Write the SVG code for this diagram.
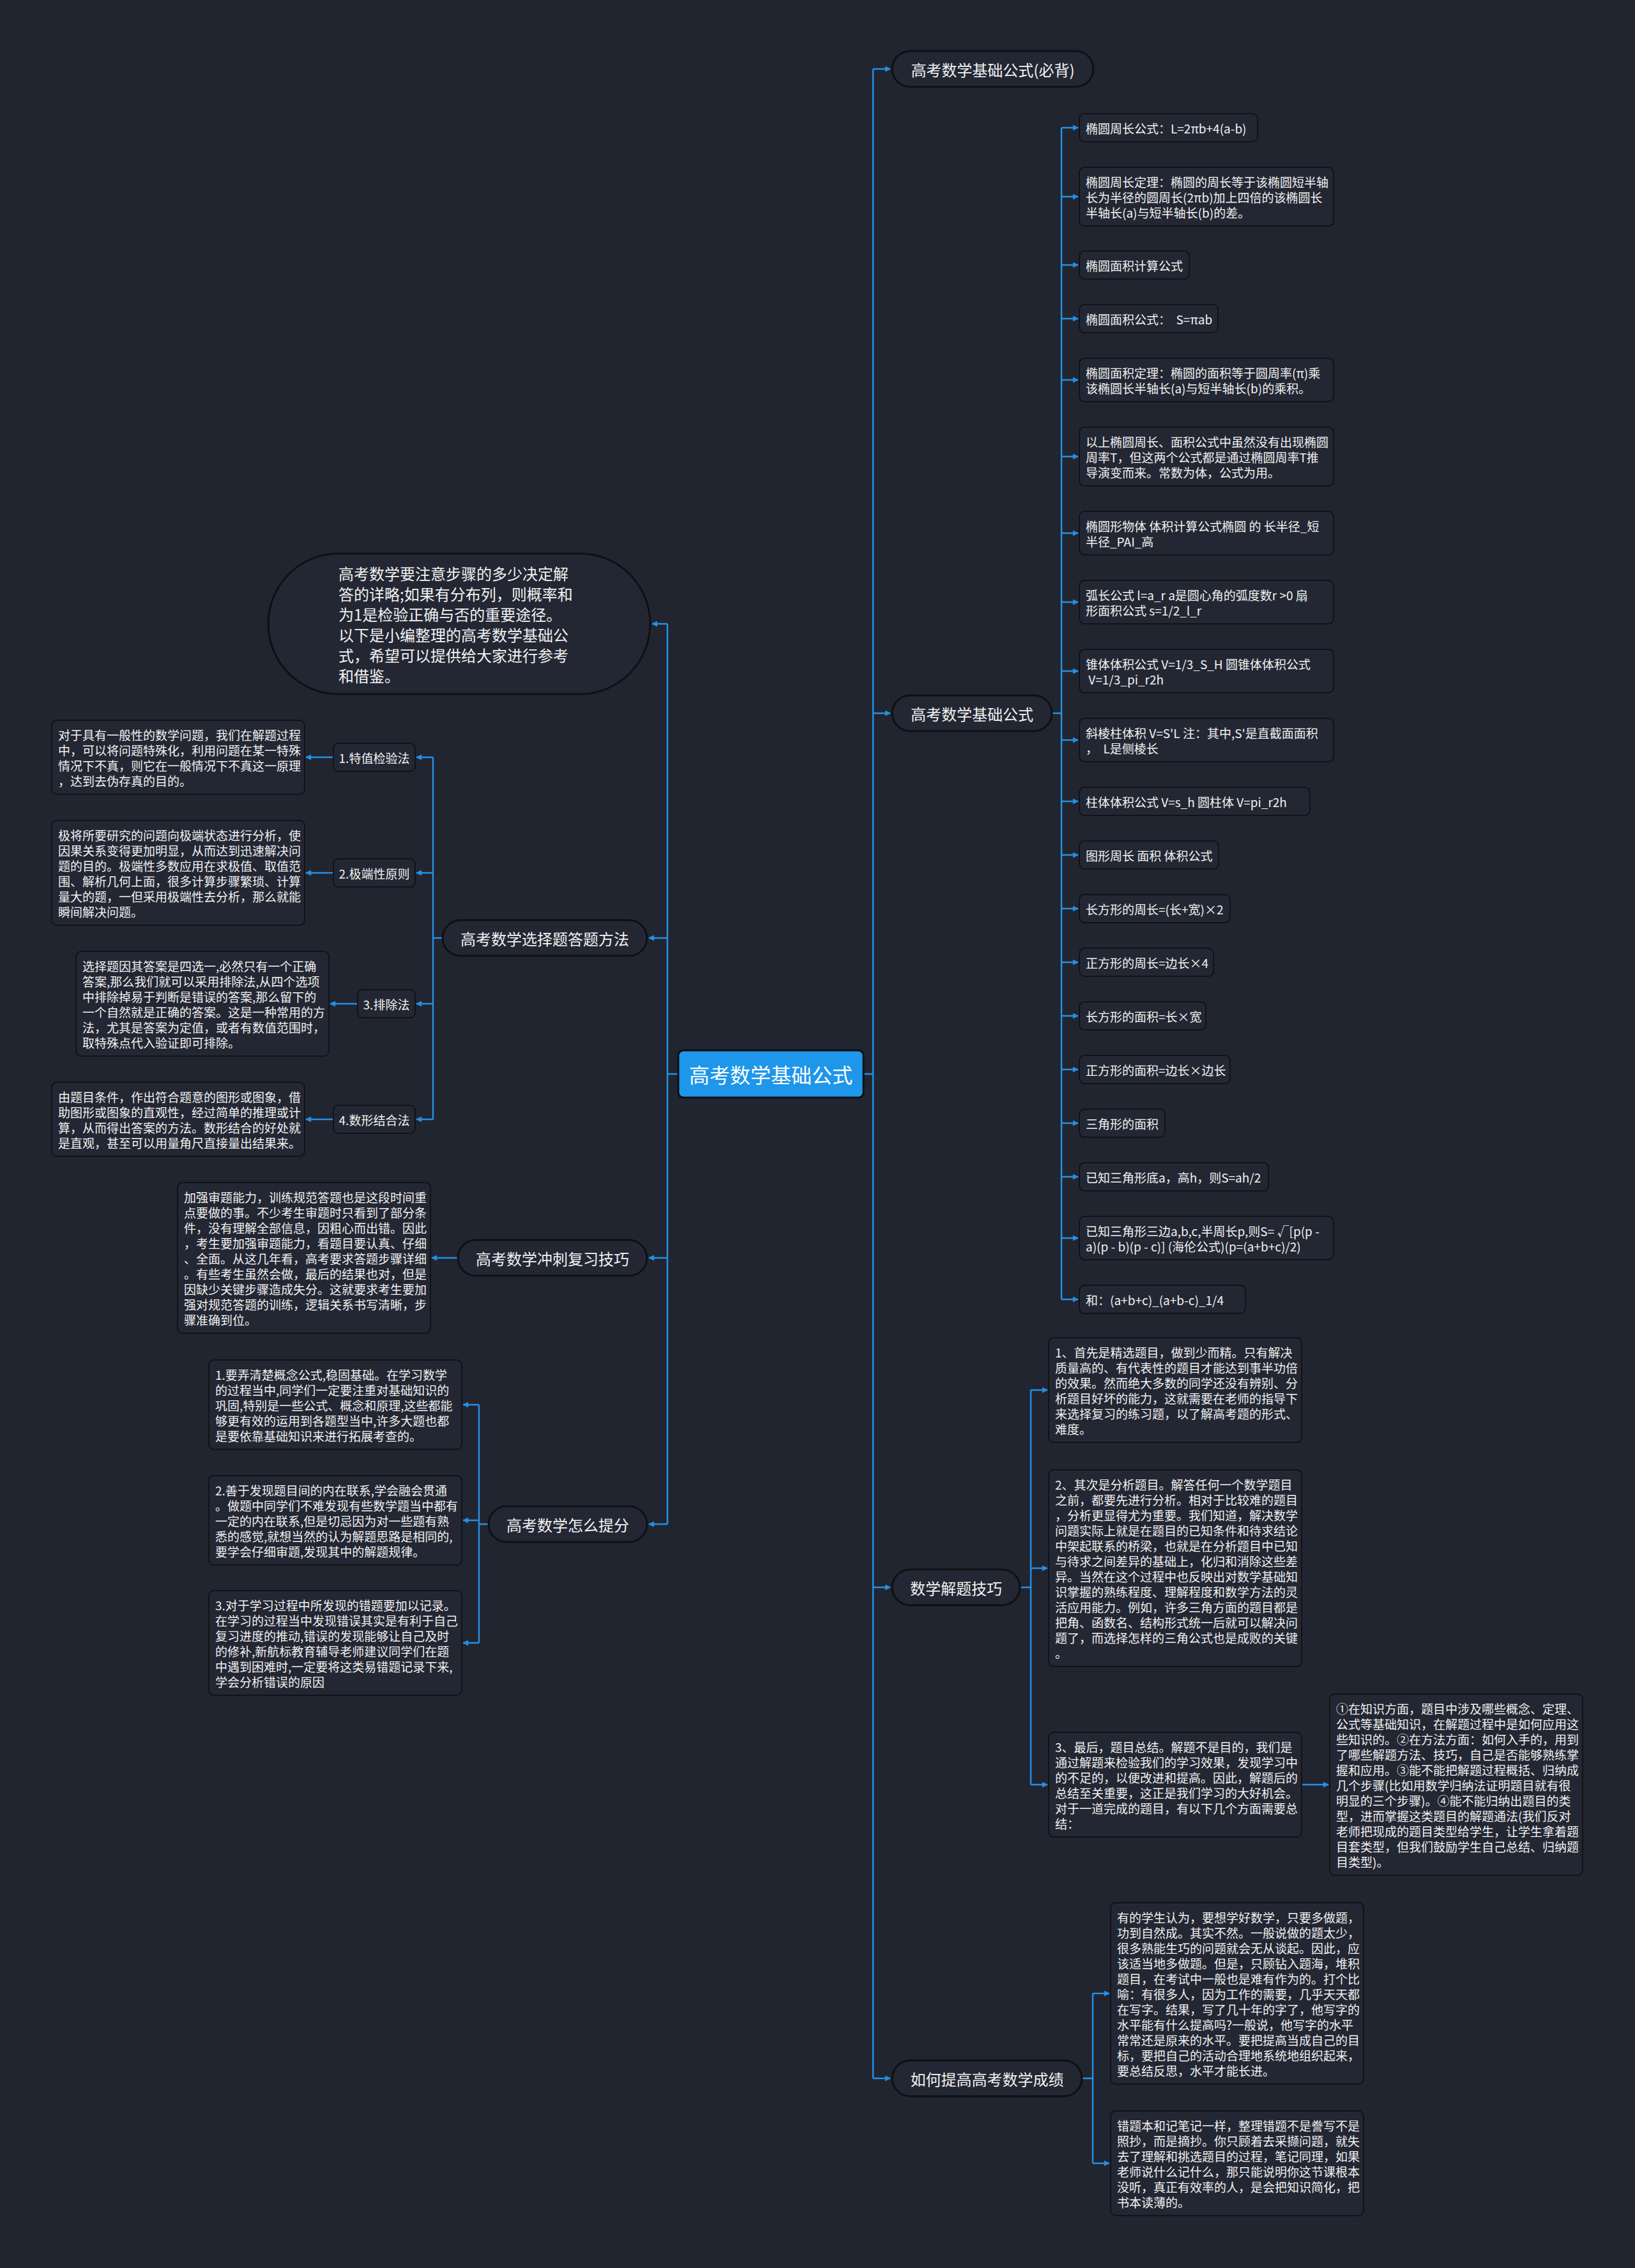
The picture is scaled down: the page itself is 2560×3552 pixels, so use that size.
<svg xmlns="http://www.w3.org/2000/svg" width="2560" height="3552" viewBox="0 0 2560 3552">
<style>
.bg{fill:#212530}
.box{fill:#232733;stroke:#111318;stroke-width:2}
.main{fill:#232733;stroke:#0e1014;stroke-width:3}
.root{fill:#1e96ea;stroke:#0c0e12;stroke-width:3}
text{font-family:"Noto Sans CJK SC","Microsoft YaHei",sans-serif;fill:#f2f2f2;dominant-baseline:central}
.s{font-size:19px}
.m{font-size:24px}
.c{text-anchor:middle}
.r{font-size:32px;fill:#ffffff}
.conn path{fill:none;stroke:#2590e2;stroke-width:2.5}
</style>
<defs>
<marker id="ah" viewBox="0 0 10 10" refX="9" refY="5" markerWidth="10" markerHeight="9" markerUnits="userSpaceOnUse" orient="auto">
<path d="M0,0 L10,5 L0,10 z" fill="#2590e2"/>
</marker>
</defs>
<rect class="bg" x="0" y="0" width="2560" height="3552"/>

<g class="conn" id="connectors">
<path d="M1352,1682 H1367"/>
<path d="M1367,108 V3255"/>
<path d="M1367,108 H1394" marker-end="url(#ah)"/>
<path d="M1367,1117 H1394" marker-end="url(#ah)"/>
<path d="M1367,2486 H1394" marker-end="url(#ah)"/>
<path d="M1367,3255 H1394" marker-end="url(#ah)"/>
<path d="M1062,1682 H1045"/>
<path d="M1045,977 V2387"/>
<path d="M1045,977 H1021" marker-end="url(#ah)"/>
<path d="M1045,1469 H1016" marker-end="url(#ah)"/>
<path d="M1045,1970 H1016" marker-end="url(#ah)"/>
<path d="M1045,2387 H1016" marker-end="url(#ah)"/>
<path d="M1647,1117 H1662"/>
<path d="M1662,200 V2035"/>
<path d="M1662,200 H1688" marker-end="url(#ah)"/>
<path d="M1662,308 H1688" marker-end="url(#ah)"/>
<path d="M1662,415 H1688" marker-end="url(#ah)"/>
<path d="M1662,499 H1688" marker-end="url(#ah)"/>
<path d="M1662,595 H1688" marker-end="url(#ah)"/>
<path d="M1662,715 H1688" marker-end="url(#ah)"/>
<path d="M1662,835 H1688" marker-end="url(#ah)"/>
<path d="M1662,943 H1688" marker-end="url(#ah)"/>
<path d="M1662,1051 H1688" marker-end="url(#ah)"/>
<path d="M1662,1159 H1688" marker-end="url(#ah)"/>
<path d="M1662,1255 H1688" marker-end="url(#ah)"/>
<path d="M1662,1339 H1688" marker-end="url(#ah)"/>
<path d="M1662,1423 H1688" marker-end="url(#ah)"/>
<path d="M1662,1507 H1688" marker-end="url(#ah)"/>
<path d="M1662,1591 H1688" marker-end="url(#ah)"/>
<path d="M1662,1675 H1688" marker-end="url(#ah)"/>
<path d="M1662,1759 H1688" marker-end="url(#ah)"/>
<path d="M1662,1843 H1688" marker-end="url(#ah)"/>
<path d="M1662,1939 H1688" marker-end="url(#ah)"/>
<path d="M1662,2035 H1688" marker-end="url(#ah)"/>
<path d="M1597,2486 H1614"/>
<path d="M1614,2177 V2795"/>
<path d="M1614,2177 H1640" marker-end="url(#ah)"/>
<path d="M1614,2456 H1640" marker-end="url(#ah)"/>
<path d="M1614,2795 H1640" marker-end="url(#ah)"/>
<path d="M2038,2795 H2080" marker-end="url(#ah)"/>
<path d="M1694,3255 H1711"/>
<path d="M1711,3122 V3388"/>
<path d="M1711,3122 H1737" marker-end="url(#ah)"/>
<path d="M1711,3388 H1737" marker-end="url(#ah)"/>
<path d="M693,1469 H678"/>
<path d="M678,1186 V1753"/>
<path d="M678,1186 H652" marker-end="url(#ah)"/>
<path d="M678,1367 H652" marker-end="url(#ah)"/>
<path d="M678,1572 H652" marker-end="url(#ah)"/>
<path d="M678,1753 H652" marker-end="url(#ah)"/>
<path d="M522,1186 H479" marker-end="url(#ah)"/>
<path d="M522,1367 H479" marker-end="url(#ah)"/>
<path d="M560,1572 H517" marker-end="url(#ah)"/>
<path d="M522,1753 H479" marker-end="url(#ah)"/>
<path d="M717,1970 H676" marker-end="url(#ah)"/>
<path d="M765,2387 H750"/>
<path d="M750,2200 V2573"/>
<path d="M750,2200 H725" marker-end="url(#ah)"/>
<path d="M750,2381 H725" marker-end="url(#ah)"/>
<path d="M750,2573 H725" marker-end="url(#ah)"/>
</g>

<g id="root">
<rect class="root" x="1062" y="1645" width="290" height="74" rx="8"/>
<text class="r c" x="1207" y="1682">高考数学基础公式</text>
</g>

<g id="n-bibei">
<rect class="main" x="1397" y="80" width="315" height="56" rx="28"/>
<text class="m c" x="1554.5" y="108">高考数学基础公式(必背)</text>
</g>
<g id="n-jichu">
<rect class="main" x="1397" y="1089" width="250" height="56" rx="28"/>
<text class="m c" x="1522" y="1117">高考数学基础公式</text>
</g>
<g id="n-jieti">
<rect class="main" x="1397" y="2458" width="200" height="56" rx="28"/>
<text class="m c" x="1497" y="2486">数学解题技巧</text>
</g>
<g id="n-tigao">
<rect class="main" x="1397" y="3227" width="297" height="56" rx="28"/>
<text class="m c" x="1545.5" y="3255">如何提高高考数学成绩</text>
</g>

<g id="f1"><rect class="box" x="1690" y="178" width="279" height="44" rx="8"/><text class="s" x="1700" y="200">椭圆周长公式：L=2πb+4(a-b)</text></g>
<g id="f2"><rect class="box" x="1690" y="262" width="398" height="92" rx="8"/>
<text class="s" x="1700" y="284">椭圆周长定理：椭圆的周长等于该椭圆短半轴</text>
<text class="s" x="1700" y="308">长为半径的圆周长(2πb)加上四倍的该椭圆长</text>
<text class="s" x="1700" y="332">半轴长(a)与短半轴长(b)的差。</text></g>
<g id="f3"><rect class="box" x="1690" y="393" width="172" height="44" rx="8"/><text class="s" x="1700" y="415">椭圆面积计算公式</text></g>
<g id="f4"><rect class="box" x="1690" y="477" width="217" height="44" rx="8"/><text class="s" x="1700" y="499" xml:space="preserve">椭圆面积公式：  S=πab</text></g>
<g id="f5"><rect class="box" x="1690" y="561" width="398" height="68" rx="8"/>
<text class="s" x="1700" y="583">椭圆面积定理：椭圆的面积等于圆周率(π)乘</text>
<text class="s" x="1700" y="607">该椭圆长半轴长(a)与短半轴长(b)的乘积。</text></g>
<g id="f6"><rect class="box" x="1690" y="669" width="398" height="92" rx="8"/>
<text class="s" x="1700" y="691">以上椭圆周长、面积公式中虽然没有出现椭圆</text>
<text class="s" x="1700" y="715">周率T，但这两个公式都是通过椭圆周率T推</text>
<text class="s" x="1700" y="739">导演变而来。常数为体，公式为用。</text></g>
<g id="f7"><rect class="box" x="1690" y="801" width="398" height="68" rx="8"/>
<text class="s" x="1700" y="823">椭圆形物体 体积计算公式椭圆 的 长半径_短</text>
<text class="s" x="1700" y="847">半径_PAI_高</text></g>
<g id="f8"><rect class="box" x="1690" y="909" width="398" height="68" rx="8"/>
<text class="s" x="1700" y="931">弧长公式 l=a_r a是圆心角的弧度数r &gt;0 扇</text>
<text class="s" x="1700" y="955">形面积公式 s=1/2_l_r</text></g>
<g id="f9"><rect class="box" x="1690" y="1017" width="398" height="68" rx="8"/>
<text class="s" x="1700" y="1039">锥体体积公式 V=1/3_S_H 圆锥体体积公式</text>
<text class="s" x="1700" y="1063" xml:space="preserve"> V=1/3_pi_r2h</text></g>
<g id="f10"><rect class="box" x="1690" y="1125" width="398" height="68" rx="8"/>
<text class="s" x="1700" y="1147">斜棱柱体积 V=S'L 注：其中,S'是直截面面积</text>
<text class="s" x="1700" y="1171" xml:space="preserve">，  L是侧棱长</text></g>
<g id="f11"><rect class="box" x="1690" y="1233" width="361" height="44" rx="8"/><text class="s" x="1700" y="1255">柱体体积公式 V=s_h 圆柱体 V=pi_r2h</text></g>
<g id="f12"><rect class="box" x="1690" y="1317" width="218" height="44" rx="8"/><text class="s" x="1700" y="1339">图形周长 面积 体积公式</text></g>
<g id="f13"><rect class="box" x="1690" y="1401" width="236" height="44" rx="8"/><text class="s" x="1700" y="1423">长方形的周长=(长+宽)×2</text></g>
<g id="f14"><rect class="box" x="1690" y="1485" width="210" height="44" rx="8"/><text class="s" x="1700" y="1507">正方形的周长=边长×4</text></g>
<g id="f15"><rect class="box" x="1690" y="1569" width="198" height="44" rx="8"/><text class="s" x="1700" y="1591">长方形的面积=长×宽</text></g>
<g id="f16"><rect class="box" x="1690" y="1653" width="236" height="44" rx="8"/><text class="s" x="1700" y="1675">正方形的面积=边长×边长</text></g>
<g id="f17"><rect class="box" x="1690" y="1737" width="134" height="44" rx="8"/><text class="s" x="1700" y="1759">三角形的面积</text></g>
<g id="f18"><rect class="box" x="1690" y="1821" width="296" height="44" rx="8"/><text class="s" x="1700" y="1843">已知三角形底a，高h，则S=ah/2</text></g>
<g id="f19"><rect class="box" x="1690" y="1905" width="398" height="68" rx="8"/>
<text class="s" x="1700" y="1927">已知三角形三边a,b,c,半周长p,则S= √[p(p -</text>
<text class="s" x="1700" y="1951">a)(p - b)(p - c)] (海伦公式)(p=(a+b+c)/2)</text></g>
<g id="f20"><rect class="box" x="1690" y="2013" width="260" height="44" rx="8"/><text class="s" x="1700" y="2035">和：(a+b+c)_(a+b-c)_1/4</text></g>

<g id="j1"><rect class="box" x="1642" y="2095" width="396" height="164" rx="8"/>
<text class="s" x="1652" y="2117">1、首先是精选题目，做到少而精。只有解决</text>
<text class="s" x="1652" y="2141">质量高的、有代表性的题目才能达到事半功倍</text>
<text class="s" x="1652" y="2165">的效果。然而绝大多数的同学还没有辨别、分</text>
<text class="s" x="1652" y="2189">析题目好坏的能力，这就需要在老师的指导下</text>
<text class="s" x="1652" y="2213">来选择复习的练习题，以了解高考题的形式、</text>
<text class="s" x="1652" y="2237">难度。</text></g>
<g id="j2"><rect class="box" x="1642" y="2302" width="396" height="308" rx="8"/>
<text class="s" x="1652" y="2324">2、其次是分析题目。解答任何一个数学题目</text>
<text class="s" x="1652" y="2348">之前，都要先进行分析。相对于比较难的题目</text>
<text class="s" x="1652" y="2372">，分析更显得尤为重要。我们知道，解决数学</text>
<text class="s" x="1652" y="2396">问题实际上就是在题目的已知条件和待求结论</text>
<text class="s" x="1652" y="2420">中架起联系的桥梁，也就是在分析题目中已知</text>
<text class="s" x="1652" y="2444">与待求之间差异的基础上，化归和消除这些差</text>
<text class="s" x="1652" y="2468">异。当然在这个过程中也反映出对数学基础知</text>
<text class="s" x="1652" y="2492">识掌握的熟练程度、理解程度和数学方法的灵</text>
<text class="s" x="1652" y="2516">活应用能力。例如，许多三角方面的题目都是</text>
<text class="s" x="1652" y="2540">把角、函数名、结构形式统一后就可以解决问</text>
<text class="s" x="1652" y="2564">题了，而选择怎样的三角公式也是成败的关键</text>
<text class="s" x="1652" y="2588">。</text></g>
<g id="j3"><rect class="box" x="1642" y="2713" width="396" height="164" rx="8"/>
<text class="s" x="1652" y="2735">3、最后，题目总结。解题不是目的，我们是</text>
<text class="s" x="1652" y="2759">通过解题来检验我们的学习效果，发现学习中</text>
<text class="s" x="1652" y="2783">的不足的，以便改进和提高。因此，解题后的</text>
<text class="s" x="1652" y="2807">总结至关重要，这正是我们学习的大好机会。</text>
<text class="s" x="1652" y="2831">对于一道完成的题目，有以下几个方面需要总</text>
<text class="s" x="1652" y="2855">结：</text></g>
<g id="j4"><rect class="box" x="2082" y="2653" width="396" height="284" rx="8"/>
<text class="s" x="2092" y="2675">①在知识方面，题目中涉及哪些概念、定理、</text>
<text class="s" x="2092" y="2699">公式等基础知识，在解题过程中是如何应用这</text>
<text class="s" x="2092" y="2723">些知识的。②在方法方面：如何入手的，用到</text>
<text class="s" x="2092" y="2747">了哪些解题方法、技巧，自己是否能够熟练掌</text>
<text class="s" x="2092" y="2771">握和应用。③能不能把解题过程概括、归纳成</text>
<text class="s" x="2092" y="2795">几个步骤(比如用数学归纳法证明题目就有很</text>
<text class="s" x="2092" y="2819">明显的三个步骤)。④能不能归纳出题目的类</text>
<text class="s" x="2092" y="2843">型，进而掌握这类题目的解题通法(我们反对</text>
<text class="s" x="2092" y="2867">老师把现成的题目类型给学生，让学生拿着题</text>
<text class="s" x="2092" y="2891">目套类型，但我们鼓励学生自己总结、归纳题</text>
<text class="s" x="2092" y="2915">目类型)。</text></g>

<g id="t1"><rect class="box" x="1739" y="2980" width="396" height="284" rx="8"/>
<text class="s" x="1749" y="3002">有的学生认为，要想学好数学，只要多做题，</text>
<text class="s" x="1749" y="3026">功到自然成。其实不然。一般说做的题太少，</text>
<text class="s" x="1749" y="3050">很多熟能生巧的问题就会无从谈起。因此，应</text>
<text class="s" x="1749" y="3074">该适当地多做题。但是，只顾钻入题海，堆积</text>
<text class="s" x="1749" y="3098">题目，在考试中一般也是难有作为的。打个比</text>
<text class="s" x="1749" y="3122">喻：有很多人，因为工作的需要，几乎天天都</text>
<text class="s" x="1749" y="3146">在写字。结果，写了几十年的字了，他写字的</text>
<text class="s" x="1749" y="3170">水平能有什么提高吗?一般说，他写字的水平</text>
<text class="s" x="1749" y="3194">常常还是原来的水平。要把提高当成自己的目</text>
<text class="s" x="1749" y="3218">标，要把自己的活动合理地系统地组织起来，</text>
<text class="s" x="1749" y="3242">要总结反思，水平才能长进。</text></g>
<g id="t2"><rect class="box" x="1739" y="3306" width="396" height="164" rx="8"/>
<text class="s" x="1749" y="3328">错题本和记笔记一样，整理错题不是誊写不是</text>
<text class="s" x="1749" y="3352">照抄，而是摘抄。你只顾着去采撷问题，就失</text>
<text class="s" x="1749" y="3376">去了理解和挑选题目的过程，笔记同理，如果</text>
<text class="s" x="1749" y="3400">老师说什么记什么，那只能说明你这节课根本</text>
<text class="s" x="1749" y="3424">没听，真正有效率的人，是会把知识简化，把</text>
<text class="s" x="1749" y="3448">书本读薄的。</text></g>

<g id="n-intro">
<rect class="main" x="420" y="867" width="598" height="220" rx="110"/>
<text class="m" x="530" y="897">高考数学要注意步骤的多少决定解</text>
<text class="m" x="530" y="929">答的详略;如果有分布列，则概率和</text>
<text class="m" x="530" y="961">为1是检验正确与否的重要途径。</text>
<text class="m" x="530" y="993">以下是小编整理的高考数学基础公</text>
<text class="m" x="530" y="1025">式，希望可以提供给大家进行参考</text>
<text class="m" x="530" y="1057">和借鉴。</text>
</g>

<g id="n-xuanze">
<rect class="main" x="693" y="1441" width="320" height="56" rx="28"/>
<text class="m c" x="853" y="1469">高考数学选择题答题方法</text>
</g>
<g id="x1"><rect class="box" x="522" y="1164" width="128" height="44" rx="8"/><text class="s c" x="586" y="1186">1.特值检验法</text></g>
<g id="x2"><rect class="box" x="522" y="1345" width="128" height="44" rx="8"/><text class="s c" x="586" y="1367">2.极端性原则</text></g>
<g id="x3"><rect class="box" x="560" y="1550" width="90" height="44" rx="8"/><text class="s c" x="605" y="1572">3.排除法</text></g>
<g id="x4"><rect class="box" x="522" y="1731" width="128" height="44" rx="8"/><text class="s c" x="586" y="1753">4.数形结合法</text></g>
<g id="x1d"><rect class="box" x="81" y="1128" width="396" height="116" rx="8"/>
<text class="s" x="91" y="1150">对于具有一般性的数学问题，我们在解题过程</text>
<text class="s" x="91" y="1174">中，可以将问题特殊化，利用问题在某一特殊</text>
<text class="s" x="91" y="1198">情况下不真，则它在一般情况下不真这一原理</text>
<text class="s" x="91" y="1222">，达到去伪存真的目的。</text></g>
<g id="x2d"><rect class="box" x="81" y="1285" width="396" height="164" rx="8"/>
<text class="s" x="91" y="1307">极将所要研究的问题向极端状态进行分析，使</text>
<text class="s" x="91" y="1331">因果关系变得更加明显，从而达到迅速解决问</text>
<text class="s" x="91" y="1355">题的目的。极端性多数应用在求极值、取值范</text>
<text class="s" x="91" y="1379">围、解析几何上面，很多计算步骤繁琐、计算</text>
<text class="s" x="91" y="1403">量大的题，一但采用极端性去分析，那么就能</text>
<text class="s" x="91" y="1427">瞬间解决问题。</text></g>
<g id="x3d"><rect class="box" x="119" y="1490" width="396" height="164" rx="8"/>
<text class="s" x="129" y="1512">选择题因其答案是四选一,必然只有一个正确</text>
<text class="s" x="129" y="1536">答案,那么我们就可以采用排除法,从四个选项</text>
<text class="s" x="129" y="1560">中排除掉易于判断是错误的答案,那么留下的</text>
<text class="s" x="129" y="1584">一个自然就是正确的答案。这是一种常用的方</text>
<text class="s" x="129" y="1608">法，尤其是答案为定值，或者有数值范围时，</text>
<text class="s" x="129" y="1632">取特殊点代入验证即可排除。</text></g>
<g id="x4d"><rect class="box" x="81" y="1695" width="396" height="116" rx="8"/>
<text class="s" x="91" y="1717">由题目条件，作出符合题意的图形或图象，借</text>
<text class="s" x="91" y="1741">助图形或图象的直观性，经过简单的推理或计</text>
<text class="s" x="91" y="1765">算，从而得出答案的方法。数形结合的好处就</text>
<text class="s" x="91" y="1789">是直观，甚至可以用量角尺直接量出结果来。</text></g>

<g id="n-chongci">
<rect class="main" x="717" y="1942" width="296" height="56" rx="28"/>
<text class="m c" x="865" y="1970">高考数学冲刺复习技巧</text>
</g>
<g id="c1"><rect class="box" x="278" y="1852" width="396" height="236" rx="8"/>
<text class="s" x="288" y="1874">加强审题能力，训练规范答题也是这段时间重</text>
<text class="s" x="288" y="1898">点要做的事。不少考生审题时只看到了部分条</text>
<text class="s" x="288" y="1922">件，没有理解全部信息，因粗心而出错。因此</text>
<text class="s" x="288" y="1946">，考生要加强审题能力，看题目要认真、仔细</text>
<text class="s" x="288" y="1970">、全面。从这几年看，高考要求答题步骤详细</text>
<text class="s" x="288" y="1994">。有些考生虽然会做，最后的结果也对，但是</text>
<text class="s" x="288" y="2018">因缺少关键步骤造成失分。这就要求考生要加</text>
<text class="s" x="288" y="2042">强对规范答题的训练，逻辑关系书写清晰，步</text>
<text class="s" x="288" y="2066">骤准确到位。</text></g>

<g id="n-tifen">
<rect class="main" x="765" y="2359" width="248" height="56" rx="28"/>
<text class="m c" x="889" y="2387">高考数学怎么提分</text>
</g>
<g id="p1"><rect class="box" x="327" y="2130" width="396" height="140" rx="8"/>
<text class="s" x="337" y="2152">1.要弄清楚概念公式,稳固基础。在学习数学</text>
<text class="s" x="337" y="2176">的过程当中,同学们一定要注重对基础知识的</text>
<text class="s" x="337" y="2200">巩固,特别是一些公式、概念和原理,这些都能</text>
<text class="s" x="337" y="2224">够更有效的运用到各题型当中,许多大题也都</text>
<text class="s" x="337" y="2248">是要依靠基础知识来进行拓展考查的。</text></g>
<g id="p2"><rect class="box" x="327" y="2311" width="396" height="140" rx="8"/>
<text class="s" x="337" y="2333">2.善于发现题目间的内在联系,学会融会贯通</text>
<text class="s" x="337" y="2357">。做题中同学们不难发现有些数学题当中都有</text>
<text class="s" x="337" y="2381">一定的内在联系,但是切忌因为对一些题有熟</text>
<text class="s" x="337" y="2405">悉的感觉,就想当然的认为解题思路是相同的,</text>
<text class="s" x="337" y="2429">要学会仔细审题,发现其中的解题规律。</text></g>
<g id="p3"><rect class="box" x="327" y="2491" width="396" height="164" rx="8"/>
<text class="s" x="337" y="2513">3.对于学习过程中所发现的错题要加以记录。</text>
<text class="s" x="337" y="2537">在学习的过程当中发现错误其实是有利于自己</text>
<text class="s" x="337" y="2561">复习进度的推动,错误的发现能够让自己及时</text>
<text class="s" x="337" y="2585">的修补,新航标教育辅导老师建议同学们在题</text>
<text class="s" x="337" y="2609">中遇到困难时,一定要将这类易错题记录下来,</text>
<text class="s" x="337" y="2633">学会分析错误的原因</text></g>
</svg>
